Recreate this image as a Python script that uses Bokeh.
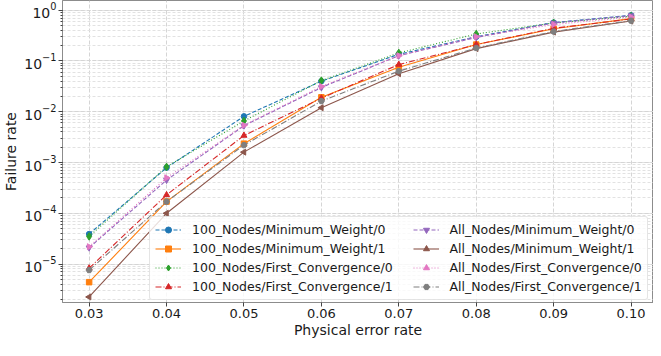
import numpy as np
from bokeh.plotting import figure
from bokeh.models import FixedTicker, NumeralTickFormatter, Legend, LegendItem, LogTicker
from bokeh.embed import file_html
from bokeh.resources import INLINE

# ---- data ----
error_rates = [0.03, 0.04, 0.05, 0.06, 0.07, 0.08, 0.09, 0.10]
x_tick_labels = ["0.03", "0.04", "0.05", "0.06", "0.07", "0.08", "0.09", "0.10"]

nodes100_min_weight_0 = [3.9e-5, 7.9e-4, 8.1e-3, 4.0e-2, 0.135, 0.30, 0.57, 0.79]
nodes100_min_weight_1 = [4.4e-6, 1.7e-4, 2.35e-3, 1.92e-2, 0.075, 0.21, 0.43, 0.68]
nodes100_first_conv_0 = [3.5e-5, 8.2e-4, 6.6e-3, 4.1e-2, 0.144, 0.34, 0.56, 0.76]
nodes100_first_conv_1 = [8.3e-6, 2.3e-4, 3.4e-3, 1.85e-2, 0.085, 0.21, 0.44, 0.67]
all_min_weight_0 = [2.1e-5, 4.5e-4, 5.3e-3, 3.0e-2, 0.127, 0.29, 0.56, 0.78]
all_min_weight_1 = [2.25e-6, 1.0e-4, 1.6e-3, 1.2e-2, 0.056, 0.175, 0.37, 0.61]
all_first_conv_0 = [2.2e-5, 5.0e-4, 5.4e-3, 3.15e-2, 0.127, 0.30, 0.52, 0.73]
all_first_conv_1 = [7.6e-6, 1.7e-4, 2.2e-3, 1.62e-2, 0.063, 0.18, 0.38, 0.62]

series_labels = [
    "100_Nodes/Minimum_Weight/0",
    "100_Nodes/Minimum_Weight/1",
    "100_Nodes/First_Convergence/0",
    "100_Nodes/First_Convergence/1",
    "All_Nodes/Minimum_Weight/0",
    "All_Nodes/Minimum_Weight/1",
    "All_Nodes/First_Convergence/0",
    "All_Nodes/First_Convergence/1",
]
series_values = [
    nodes100_min_weight_0, nodes100_min_weight_1, nodes100_first_conv_0, nodes100_first_conv_1,
    all_min_weight_0, all_min_weight_1, all_first_conv_0, all_first_conv_1,
]

# ---- styles ----
colors = ["#1f77b4", "#ff7f0e", "#2ca02c", "#d62728", "#9467bd", "#8c564b", "#e377c2", "#7f7f7f"]
dashes = ["4 2", "solid", "1 2", "6 2 1 2", "4 2", "solid", "1 2", "6 2 1 2"]
markers = ["circle", "square", "diamond", "triangle", "inverted_triangle", "triangle", "triangle", "hex"]
angles = [0, 0, 0, 0, 0, np.pi / 2, -np.pi / 2, 0]
sizes = [5.5, 5.5, 7.5, 6, 6, 6, 6, 6]

FONT = "DejaVu Sans"
TXT = "#1a1a1a"

p = figure(width=653, height=340, y_axis_type="log",
           x_range=(0.02656, 0.1029), y_range=(1.75e-6, 1.55),
           output_backend="svg", toolbar_location=None,
           min_border_left=52, min_border_right=0, min_border_top=0, min_border_bottom=20,
           background_fill_color="white", border_fill_color="white")

items = []
for i, (lab, vals, c, d, m, a, s) in enumerate(zip(series_labels, series_values, colors, dashes,
                                                   markers, angles, sizes)):
    lr = p.line(error_rates, vals, line_color=c, line_width=1.1, line_dash=d)
    sr = p.scatter(error_rates, vals, marker=m, angle=a, size=s, fill_color=c, line_color=c)
    # first legend column gets a little trailing room (gap between the two columns)
    shown = lab + "\u00a0" * 4 if i < 4 else lab
    items.append(LegendItem(label=shown, renderers=[lr, sr]))

legend = Legend(items=items, ncols=2, location=(87, 2),
                label_text_font=FONT, label_text_font_size="12.5px", label_text_color=TXT,
                glyph_width=26, glyph_height=15, label_height=15, label_standoff=11,
                spacing=4, padding=5, margin=0,
                border_line_color="#cccccc", border_line_width=1, border_radius=3,
                background_fill_color="white", background_fill_alpha=0.8)
p.add_layout(legend, "center")

# axes
p.xaxis.ticker = FixedTicker(ticks=error_rates)
p.xaxis.formatter = NumeralTickFormatter(format="0.00")
p.xaxis.axis_label = "Physical error rate"
p.yaxis.axis_label = "Failure rate"
p.yaxis.ticker = LogTicker(num_minor_ticks=10)

for ax in (p.xaxis[0], p.yaxis[0]):
    ax.axis_label_text_font = FONT
    ax.axis_label_text_font_size = "14px"
    ax.axis_label_text_font_style = "normal"
    ax.axis_label_text_color = TXT
    ax.major_label_text_font = FONT
    ax.major_label_text_font_size = "13px"
    ax.major_label_text_color = TXT
    ax.axis_line_color = "#8c8c8c"
    ax.major_tick_line_color = "#444444"
    ax.minor_tick_line_color = "#444444"
    ax.major_tick_out = 4
    ax.major_tick_in = 0
    ax.minor_tick_out = 2
    ax.minor_tick_in = 0
    ax.major_label_standoff = 2
    ax.axis_label_standoff = 2
p.xaxis.minor_tick_line_color = None
p.xaxis.axis_label_standoff = 1
p.yaxis.major_label_text_font_size = "14px"

p.outline_line_color = "#8c8c8c"

p.xgrid.grid_line_color = "#d5d5d5"
p.xgrid.grid_line_dash = "4 2"
p.ygrid.grid_line_color = "#d5d5d5"
p.ygrid.grid_line_dash = "4 2"
p.ygrid.minor_grid_line_color = "#e2e2e2"
p.ygrid.minor_grid_line_dash = "3 2"

open("out.html", "w").write(file_html(p, INLINE))
